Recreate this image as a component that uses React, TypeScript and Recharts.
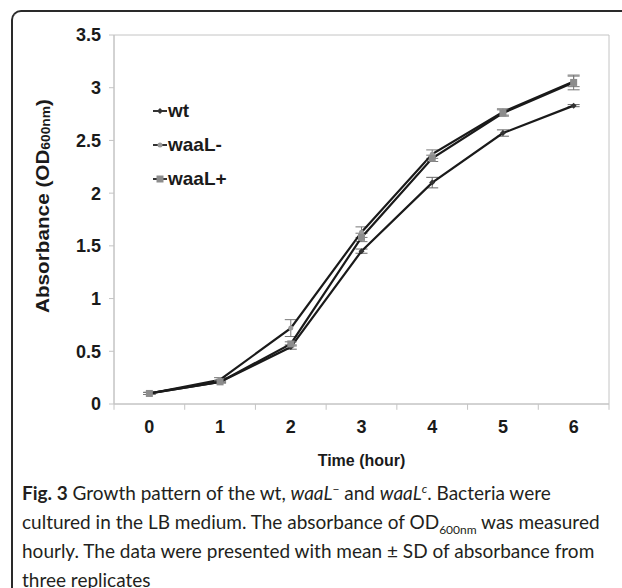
import React from 'react';
import {
  LineChart, Line, XAxis, YAxis, ErrorBar, ReferenceLine, ReferenceArea,
} from 'recharts';

const hours = [0, 1, 2, 3, 4, 5, 6];
const wt = [0.10, 0.21, 0.54, 1.45, 2.10, 2.57, 2.83];
const wtSd = [0.01, 0.01, 0.02, 0.02, 0.05, 0.03, 0.01];
const waaLMinus = [0.10, 0.23, 0.72, 1.63, 2.37, 2.77, 3.06];
const waaLMinusSd = [0.01, 0.02, 0.08, 0.05, 0.04, 0.03, 0.05];
const waaLPlus = [0.10, 0.21, 0.57, 1.58, 2.33, 2.76, 3.05];
const waaLPlusSd = [0.01, 0.01, 0.02, 0.04, 0.03, 0.03, 0.07];
const yTicks = [0, 0.5, 1, 1.5, 2, 2.5, 3, 3.5];
const bandEdges = [-0.5, 0.5, 1.5, 2.5, 3.5, 4.5, 5.5, 6.5];

const data = hours.map((h, i) => ({
  hour: h,
  wt: wt[i],
  wtSd: wtSd[i],
  waaLMinus: waaLMinus[i],
  waaLMinusSd: waaLMinusSd[i],
  waaLPlus: waaLPlus[i],
  waaLPlusSd: waaLPlusSd[i],
}));

const FONT = 'Arial, "Liberation Sans", sans-serif';
const AXIS = '#c4c4c4';

const Diamond = ({ cx, cy }: any) => (
  <path d={`M${cx},${cy - 3} L${cx + 3},${cy} L${cx},${cy + 3} L${cx - 3},${cy} Z`} fill="#333" />
);
const SmallDot = ({ cx, cy }: any) => <circle cx={cx} cy={cy} r={2.5} fill="#9a9a9a" />;
const Square = ({ cx, cy }: any) => <rect x={cx - 3.5} y={cy - 3.5} width={7} height={7} fill="#8c8c8c" />;

const legendItems = [
  { label: 'wt', marker: (x: number, y: number) => <Diamond cx={x} cy={y} /> },
  { label: 'waaL-', marker: (x: number, y: number) => <SmallDot cx={x} cy={y} /> },
  { label: 'waaL+', marker: (x: number, y: number) => <Square cx={x} cy={y} /> },
];

// legend drawn as an overlay so it does not take space from the plot
function LegendBox() {
  return (
    <div style={{ position: 'absolute', left: 152, top: 94, fontFamily: FONT, fontWeight: 'bold', fontSize: 19, color: '#1a1a1a' }}>
      {legendItems.map((it) => (
        <div key={it.label} style={{ height: 34, display: 'flex', alignItems: 'center' }}>
          <svg width={16} height={10} style={{ marginRight: 0 }}>
            <line x1={1} y1={5} x2={15} y2={5} stroke="#333" strokeWidth={2} />
            {it.marker(8, 5)}
          </svg>
          <span>{it.label}</span>
        </div>
      ))}
    </div>
  );
}

const YLabel = () => {
  const cx = 43;
  const cy = 206;
  return (
    <text
      x={cx}
      y={cy}
      transform={`rotate(-90 ${cx} ${cy})`}
      textAnchor="middle"
      dominantBaseline="central"
      fontFamily={FONT}
      fontWeight="bold"
      fontSize={18}
      textLength={214}
      lengthAdjust="spacingAndGlyphs"
      fill="#1a1a1a"
    >
      Absorbance (OD<tspan fontSize={12} dy={3}>600nm</tspan><tspan dy={-3}>)</tspan>
    </text>
  );
};

const XLabel = ({ viewBox }: any) => (
  <text
    x={viewBox.x + viewBox.width / 2}
    y={viewBox.y + 62}
    textAnchor="middle"
    fontFamily={FONT}
    fontWeight="bold"
    fontSize={16}
    fill="#1a1a1a"
  >
    Time (hour)
  </text>
);

const tickStyle = { fontFamily: FONT, fontWeight: 'bold', fontSize: 18, fill: '#1a1a1a' };
const small = { fontSize: 12, lineHeight: 0 };

export default function App() {
  return (
    <div style={{ position: 'absolute', left: 0, top: 0, width: 622, height: 588, background: '#fff', overflow: 'hidden' }}>
      <div
        style={{
          position: 'absolute', left: 11, top: 10, width: 640, height: 620,
          borderTop: '2px solid #2a2a2a', borderLeft: '2px solid #2a2a2a', borderTopLeftRadius: 10,
        }}
      />
      <div style={{ position: 'absolute', left: 0, top: 0 }}>
        <LineChart width={622} height={474} data={data} margin={{ top: 35, right: 13, left: 0, bottom: 0 }}>
          <XAxis
            dataKey="hour"
            type="number"
            domain={[-0.5, 6.5]}
            ticks={hours}
            tickLine={false}
            axisLine={{ stroke: AXIS }}
            tick={tickStyle}
            tickMargin={10}
            height={70}
            label={<XLabel />}
          />
          <YAxis
            type="number"
            domain={[0, 3.5]}
            ticks={yTicks}
            width={114}
            axisLine={{ stroke: AXIS }}
            tickLine={{ stroke: AXIS }}
            tickSize={5}
            tickMargin={8}
            tick={tickStyle}
            label={<YLabel />}
          />
          <ReferenceArea x1={-0.5} x2={6.5} y1={0} y2={3.5} fill="none" stroke={AXIS} strokeWidth={1} />
          {bandEdges.map((e) => (
            <ReferenceLine
              key={e}
              segment={[{ x: e, y: 0 }, { x: e, y: -0.055 }]}
              stroke={AXIS}
              ifOverflow="visible"
            />
          ))}
          <Line dataKey="wt" stroke="#1a1a1a" strokeWidth={2.2} dot={<Diamond />} activeDot={false} isAnimationActive={false}>
            <ErrorBar dataKey="wtSd" direction="y" width={6} stroke="#666" strokeWidth={1} />
          </Line>
          <Line dataKey="waaLMinus" stroke="#1a1a1a" strokeWidth={2.2} dot={<SmallDot />} activeDot={false} isAnimationActive={false}>
            <ErrorBar dataKey="waaLMinusSd" direction="y" width={6} stroke="#777" strokeWidth={1} />
          </Line>
          <Line dataKey="waaLPlus" stroke="#1a1a1a" strokeWidth={2.2} dot={<Square />} activeDot={false} isAnimationActive={false}>
            <ErrorBar dataKey="waaLPlusSd" direction="y" width={6} stroke="#777" strokeWidth={1} />
          </Line>
        </LineChart>
        <LegendBox />
      </div>
      <div
        style={{
          position: 'absolute', left: 22, top: 478, width: 600,
          fontFamily: 'Lato, sans-serif', fontSize: 19, lineHeight: '29px', color: '#231f20',
          whiteSpace: 'nowrap',
        }}
      >
        <b>Fig. 3</b> Growth pattern of the wt, <i>waaL</i><sup style={small}>−</sup> and <i>waaL</i><sup style={small}><i>c</i></sup>. Bacteria were<br />
        cultured in the LB medium. The absorbance of OD<sub style={small}>600nm</sub> was measured<br />
        hourly. The data were presented with mean ± SD of absorbance from<br />
        three replicates
      </div>
    </div>
  );
}
